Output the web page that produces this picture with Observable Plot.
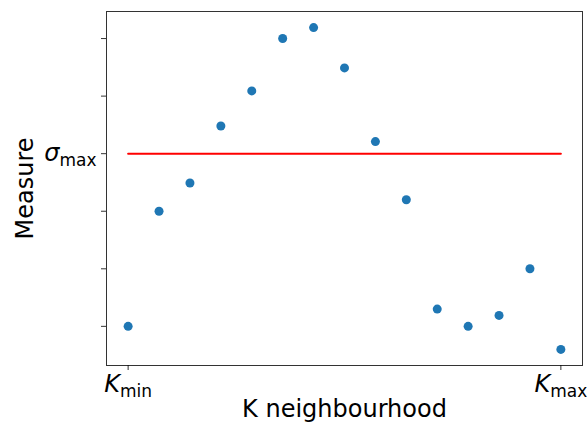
<!DOCTYPE html>
<html>
<head>
<meta charset="utf-8">
<script src="https://cdn.jsdelivr.net/npm/d3@7"></script>
<script src="https://cdn.jsdelivr.net/npm/@observablehq/plot@0.6"></script>
<style>
  html, body { margin: 0; padding: 0; background: #fff; }
  svg { font-family: "DejaVu Sans", sans-serif; }
</style>
</head>
<body>
<div id="chart"></div>
<script>
// Data
const kValues = [1, 2, 3, 4, 5, 6, 7, 8, 9, 10, 11, 12, 13, 14, 15];
const measureValues = [0.0, 2.0, 2.49, 3.48, 4.09, 5.0, 5.19, 4.49, 3.21, 2.2, 0.3, 0.0, 0.19, 1.0, -0.4];
const sigmaMax = 3;
const xTicks = [1, 15];
const xTickLabels = [["K", "min"], ["K", "max"]];
const yTicks = [0, 1, 2, 3, 4, 5];
const yTickLabels = {3: ["σ", "max"]};
const xLabel = "K neighbourhood";
const yLabel = "Measure";

const points = kValues.map((k, i) => ({k, m: measureValues[i]}));
const refLine = [{k: xTicks[0], m: sigmaMax}, {k: xTicks[1], m: sigmaMax}];

const chart = Plot.plot({
  width: 587,
  height: 427,
  marginLeft: 106,
  marginRight: 5,
  marginTop: 11,
  marginBottom: 62,
  style: {fontFamily: "DejaVu Sans, sans-serif", fontSize: "24px", color: "#000", background: "#fff"},
  x: {domain: [0.3, 15.7]},
  y: {domain: [-0.68, 5.47]},
  marks: [
    Plot.frame({stroke: "#000", strokeWidth: 1, strokeOpacity: 0.8}),
    Plot.axisX({ticks: xTicks, tickFormat: (d) => xTickLabels[xTicks.indexOf(d)].join(""), tickSize: 5, tickPadding: 4, stroke: "#000", strokeOpacity: 0.8,
      label: xLabel, labelAnchor: "center", labelArrow: "none", labelOffset: 51, fontSize: 24}),
    Plot.axisY({ticks: yTicks, tickFormat: (d) => (yTickLabels[d] ? yTickLabels[d].join("") : ""), tickSize: 5, tickPadding: 5, stroke: "#000", strokeOpacity: 0.8,
      label: yLabel, labelAnchor: "center", labelArrow: "none", labelOffset: 91, fontSize: 24}),
    Plot.line(refLine, {x: "k", y: "m", stroke: "#ff0000", strokeWidth: 2}),
    Plot.dot(points, {x: "k", y: "m", r: 4.5, fill: "#1f77b4", stroke: "none"})
  ]
});
document.getElementById("chart").append(chart);

// Render subscripts in math-style tick labels
function subscriptify(node, parts) {
  const t = d3.select(node);
  t.text(null);
  t.append("tspan").attr("font-style", "italic").attr("font-size", 24).text(parts[0]);
  t.append("tspan").attr("font-size", 17).attr("dy", "0.3em").text(parts[1]);
}
const allLabels = [...xTickLabels, ...Object.values(yTickLabels)];
d3.select(chart).selectAll('g[aria-label$="tick label"] text').each(function() {
  const txt = this.textContent;
  const parts = allLabels.find((p) => p.join("") === txt);
  if (parts) subscriptify(this, parts);
});
</script>
</body>
</html>
